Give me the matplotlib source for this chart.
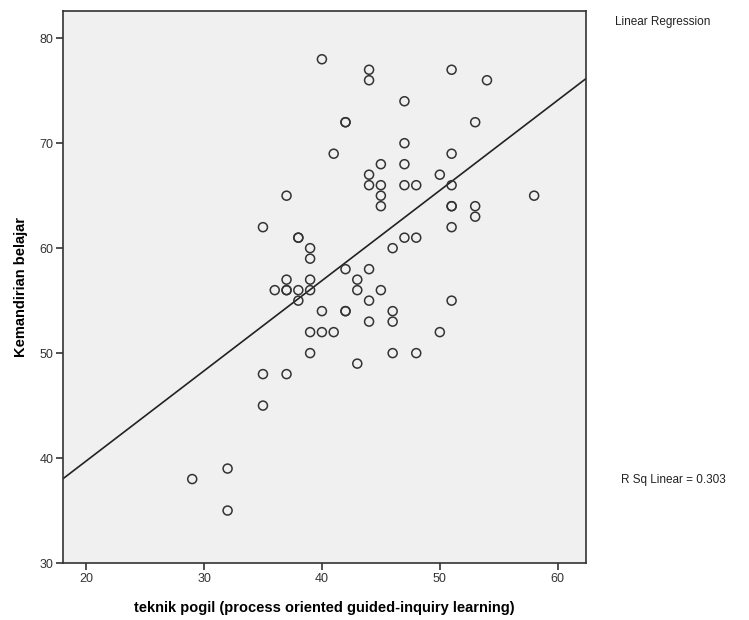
import numpy as np
import matplotlib
matplotlib.use('Agg')
import matplotlib.pyplot as plt

plt.rcParams['font.family'] = ['Liberation Sans', 'DejaVu Sans']

# teknik pogil (x) and kemandirian belajar (y)
pogil = [40, 44, 44, 51, 54, 47, 42, 42, 53, 41, 47, 51,
         37, 44, 44, 45, 47, 45, 45, 45, 47, 48, 50, 51,
         51, 51, 53, 53, 51, 58, 35, 38, 38, 39, 39, 46,
         47, 48, 37, 39, 36, 37, 37, 38, 39, 38, 42, 44,
         43, 43, 45, 40, 42, 42, 44, 46, 46, 44, 51, 39,
         40, 41, 39, 43, 46, 48, 50, 35, 37, 35, 29, 32, 32]
kemandirian = [78, 77, 76, 77, 76, 74, 72, 72, 72, 69, 70, 69,
               65, 67, 66, 68, 68, 66, 65, 64, 66, 66, 67, 66,
               64, 64, 64, 63, 62, 65, 62, 61, 61, 60, 59, 60,
               61, 61, 57, 57, 56, 56, 56, 56, 56, 55, 58, 58,
               57, 56, 56, 54, 54, 54, 55, 54, 53, 53, 55, 52,
               52, 52, 50, 49, 50, 50, 52, 48, 48, 45, 38, 39, 35]

x = np.array(pogil, dtype=float)
y = np.array(kemandirian, dtype=float)

fig = plt.figure(figsize=(7.49, 6.2), dpi=100)
ax = fig.add_axes([0.0841, 0.0919, 0.6983, 0.8904])
ax.set_facecolor('#f0f0f0')

xlim = (18.04, 62.4)
ylim = (30, 82.6)

# scatter points
ax.scatter(x, y, s=42, facecolors='none', edgecolors='#333333', linewidths=1.1, zorder=3)

# fit line
slope, intercept = np.polyfit(x, y, 1)
xs = np.array(xlim)
ax.plot(xs, slope * xs + intercept, color='#222222', linewidth=1.2, zorder=2)

ax.set_xlim(*xlim)
ax.set_ylim(*ylim)
ax.set_xticks([20, 30, 40, 50, 60])
ax.set_yticks([30, 40, 50, 60, 70, 80])

for s in ax.spines.values():
    s.set_color('#333333')
    s.set_linewidth(1.2)

ax.tick_params(direction='out', length=5, width=1.2, color='#333333',
               labelsize=9, labelcolor='#333333', pad=2)

ax.set_xlabel('teknik pogil (process oriented guided-inquiry learning)',
              fontsize=10.5, fontweight='bold', labelpad=12)
ax.set_ylabel('Kemandirian belajar', fontsize=10.5, fontweight='bold', labelpad=8)

fig.text(0.821, 0.959, 'Linear Regression', fontsize=8.5, color='#222222')
fig.text(0.829, 0.221, 'R Sq Linear = 0.303', fontsize=8.5, color='#222222')

fig.savefig('out.png', dpi=100)
